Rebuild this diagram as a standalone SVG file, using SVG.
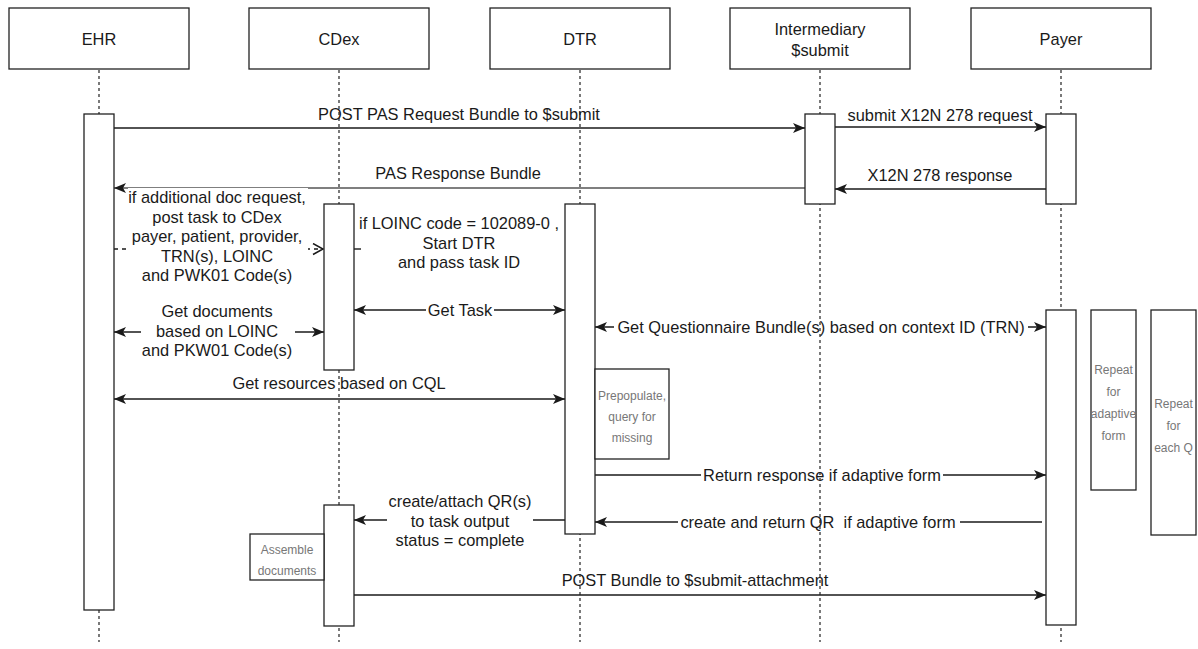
<svg xmlns="http://www.w3.org/2000/svg" width="1198" height="649" viewBox="0 0 1198 649">
<defs>
<style>
.hdr{fill:#fff;stroke:#222;stroke-width:1.3}
.bar{fill:#fff;stroke:#222;stroke-width:1.3}
.note{fill:#fff;stroke:#222;stroke-width:1.3}
.life{stroke:#222;stroke-width:1.2;stroke-dasharray:3 3;fill:none}
.t{font-family:"Liberation Sans",Arial,Helvetica,sans-serif;font-size:16.4px;fill:#1a1a1a;text-anchor:middle}
.s{font-family:"Liberation Sans",Arial,Helvetica,sans-serif;font-size:12px;fill:#777;text-anchor:middle}
.ln{stroke:#1a1a1a;stroke-width:1.4;fill:none}
.gray{stroke:#555}
.dash{stroke-dasharray:4 4}
.bg{fill:#fff}
</style>
<marker id="arr" markerUnits="userSpaceOnUse" markerWidth="14" markerHeight="12" refX="12" refY="5" orient="auto-start-reverse" viewBox="0 0 14 12">
<path d="M0,0 L12,5 L0,10 L3,5 z" fill="#1a1a1a"/>
</marker>
<marker id="open" markerUnits="userSpaceOnUse" markerWidth="14" markerHeight="14" refX="11" refY="6.5" orient="auto" viewBox="0 0 14 14">
<path d="M1,1 L11,6.5 L1,12" fill="none" stroke="#1a1a1a" stroke-width="1.5"/>
</marker>
</defs>
<rect width="1198" height="649" fill="#fff"/>

<g id="connectors">
<line class="ln" x1="114" y1="128" x2="805" y2="128" marker-end="url(#arr)"/>
<text class="t" x="459" y="120">POST PAS Request Bundle to $submit</text>

<line class="ln" x1="835" y1="127" x2="1046" y2="127" marker-end="url(#arr)"/>
<text class="t" x="940" y="121">submit X12N 278 request</text>

<line class="ln" x1="1046" y1="189" x2="835" y2="189" marker-end="url(#arr)"/>
<text class="t" x="940" y="181">X12N 278 response</text>

<line class="ln gray" x1="805" y1="188" x2="114" y2="188" marker-end="url(#arr)"/>
<text class="t" x="458" y="179">PAS Response Bundle</text>

<line class="ln dash" x1="114" y1="249" x2="323" y2="249" marker-end="url(#open)"/>
<rect class="bg" x="128" y="188" width="180" height="98"/>
<text class="t" x="217" y="203">if additional doc request,</text>
<text class="t" x="217" y="222.5">post task to CDex</text>
<text class="t" x="217" y="242">payer, patient, provider,</text>
<text class="t" x="217" y="261.5">TRN(s), LOINC</text>
<text class="t" x="217" y="281">and PWK01 Code(s)</text>

<line class="ln" x1="354" y1="249" x2="361" y2="249"/>
<text class="t" x="459" y="229">if LOINC code = 102089-0 ,</text>
<text class="t" x="459" y="248.5">Start DTR</text>
<text class="t" x="459" y="268">and pass task ID</text>

<line class="ln" x1="354" y1="310" x2="565" y2="310" marker-start="url(#arr)" marker-end="url(#arr)"/>
<rect class="bg" x="426" y="300" width="68" height="20"/>
<text class="t" x="460" y="316">Get Task</text>

<line class="ln" x1="114" y1="332" x2="324" y2="332" marker-start="url(#arr)" marker-end="url(#arr)"/>
<rect class="bg" x="141" y="300" width="154" height="62"/>
<text class="t" x="217" y="317">Get documents</text>
<text class="t" x="217" y="336.5">based on LOINC</text>
<text class="t" x="217" y="356">and PKW01 Code(s)</text>

<line class="ln" x1="595" y1="327" x2="1046" y2="327" marker-start="url(#arr)" marker-end="url(#arr)"/>
<rect class="bg" x="614" y="317" width="414" height="20"/>
<text class="t" x="821" y="333">Get Questionnaire Bundle(s) based on context ID (TRN)</text>

<line class="ln" x1="114" y1="399" x2="565" y2="399" marker-start="url(#arr)" marker-end="url(#arr)"/>
<text class="t" x="339" y="389">Get resources based on CQL</text>

<line class="ln" x1="595" y1="475" x2="1046" y2="475" marker-end="url(#arr)"/>
<rect class="bg" x="701" y="465" width="242" height="20"/>
<text class="t" x="822" y="481">Return response if adaptive form</text>

<line class="ln" x1="1042" y1="522" x2="595" y2="522" marker-end="url(#arr)"/>
<rect class="bg" x="678" y="512" width="282" height="20"/>
<text class="t" x="818" y="528" style="white-space:pre" xml:space="preserve">create and return QR  if adaptive form</text>

<line class="ln" x1="565" y1="520" x2="354" y2="520" marker-end="url(#arr)"/>
<rect class="bg" x="387" y="492" width="146" height="60"/>
<text class="t" x="460" y="507">create/attach QR(s)</text>
<text class="t" x="460" y="526.5">to task output</text>
<text class="t" x="460" y="546">status = complete</text>

<line class="ln" x1="354" y1="595" x2="1046" y2="595" marker-end="url(#arr)"/>
<text class="t" x="695" y="586">POST Bundle to $submit-attachment</text>
</g>

<g id="node-ehr">
<line class="life" x1="99" y1="70" x2="99" y2="642"/>
<rect class="bar" x="84" y="114" width="30" height="496"/>
<rect class="hdr" x="9" y="8" width="180" height="61"/>
<text class="t" x="99" y="45">EHR</text>
</g>

<g id="node-cdex">
<line class="life" x1="339" y1="70" x2="339" y2="642"/>
<rect class="bar" x="324" y="204" width="30" height="166"/>
<rect class="bar" x="324" y="505" width="30" height="121"/>
<rect class="hdr" x="249" y="8" width="180" height="61"/>
<text class="t" x="339" y="45">CDex</text>
</g>

<g id="node-dtr">
<line class="life" x1="580" y1="70" x2="580" y2="642"/>
<rect class="bar" x="565" y="204" width="30" height="330"/>
<rect class="hdr" x="490" y="8" width="180" height="61"/>
<text class="t" x="580" y="45">DTR</text>
</g>

<g id="node-intermediary">
<line class="life" x1="820" y1="70" x2="820" y2="642"/>
<rect class="bar" x="805" y="114" width="30" height="90"/>
<rect class="hdr" x="730" y="8" width="180" height="61"/>
<text class="t" x="820" y="35">Intermediary</text>
<text class="t" x="820" y="56">$submit</text>
</g>

<g id="node-payer">
<line class="life" x1="1061" y1="70" x2="1061" y2="642"/>
<rect class="bar" x="1046" y="114" width="30" height="90"/>
<rect class="bar" x="1046" y="310" width="30" height="315"/>
<rect class="hdr" x="971" y="8" width="180" height="61"/>
<text class="t" x="1061" y="45">Payer</text>
</g>

<g id="note-prepopulate">
<rect class="note" x="595" y="369" width="74" height="90"/>
<text class="s" x="632" y="400">Prepopulate,</text>
<text class="s" x="632" y="421">query for</text>
<text class="s" x="632" y="442">missing</text>
</g>

<g id="note-assemble">
<rect class="note" x="250" y="534" width="74" height="46"/>
<text class="s" x="287" y="554">Assemble</text>
<text class="s" x="287" y="575">documents</text>
</g>

<g id="note-repeat-adaptive">
<rect class="note" x="1091" y="310" width="45" height="180"/>
<text class="s" x="1113.5" y="374">Repeat</text>
<text class="s" x="1113.5" y="396">for</text>
<text class="s" x="1113.5" y="418">adaptive</text>
<text class="s" x="1113.5" y="440">form</text>
</g>

<g id="note-repeat-each">
<rect class="note" x="1151" y="310" width="45" height="225"/>
<text class="s" x="1173.5" y="408">Repeat</text>
<text class="s" x="1173.5" y="430">for</text>
<text class="s" x="1173.5" y="452">each Q</text>
</g>
</svg>
